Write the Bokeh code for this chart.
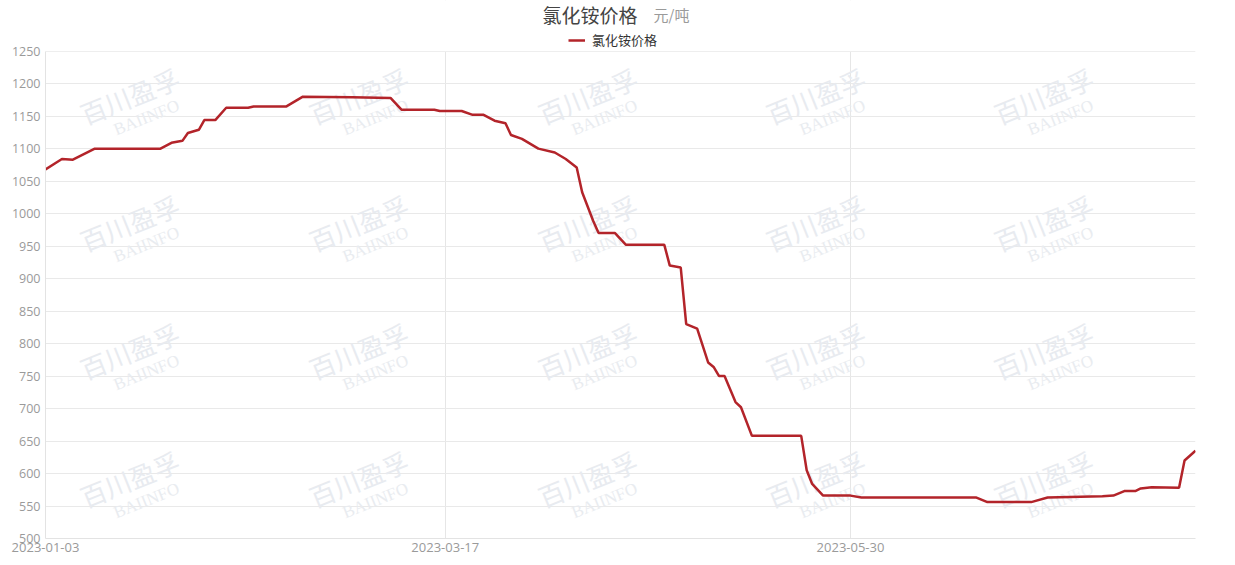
import pandas as pd
from bokeh.plotting import figure
from bokeh.models import (Range1d, FixedTicker, DatetimeTickFormatter,
                          Label, Legend, LegendItem, BoxAnnotation)
from bokeh.embed import file_html
from bokeh.resources import INLINE

# ---- data ----
dates = ["2023-01-03", "2023-01-06", "2023-01-08", "2023-01-12", "2023-01-24", "2023-01-26",
         "2023-01-28", "2023-01-29", "2023-01-31", "2023-02-01", "2023-02-03", "2023-02-05",
         "2023-02-09", "2023-02-10", "2023-02-16", "2023-02-19", "2023-02-28", "2023-03-07",
         "2023-03-09", "2023-03-15", "2023-03-16", "2023-03-20", "2023-03-22", "2023-03-24",
         "2023-03-26", "2023-03-28", "2023-03-29", "2023-03-31", "2023-04-03", "2023-04-06",
         "2023-04-08", "2023-04-10", "2023-04-11", "2023-04-13", "2023-04-14", "2023-04-17",
         "2023-04-19", "2023-04-26", "2023-04-27", "2023-04-29", "2023-04-30", "2023-05-02",
         "2023-05-04", "2023-05-05", "2023-05-06", "2023-05-07", "2023-05-09", "2023-05-10",
         "2023-05-12", "2023-05-21", "2023-05-22", "2023-05-23", "2023-05-25", "2023-05-30",
         "2023-06-01", "2023-06-22", "2023-06-24", "2023-07-02", "2023-07-05", "2023-07-15",
         "2023-07-17", "2023-07-19", "2023-07-21", "2023-07-22", "2023-07-24", "2023-07-29",
         "2023-07-30", "2023-08-01"]
prices = [1068, 1084, 1083, 1100, 1100, 1109,
          1112, 1124, 1129, 1144, 1144, 1163,
          1163, 1165, 1165, 1180, 1179, 1178,
          1160, 1160, 1158, 1158, 1152, 1152,
          1143, 1139, 1121, 1115, 1100, 1094,
          1084, 1071, 1033, 989, 970, 970,
          952, 952, 920, 917, 830, 823,
          771, 764, 750, 750, 710, 702,
          658, 658, 605, 584, 566, 566,
          563, 563, 556, 556, 563, 565,
          566, 573, 573, 577, 579, 578,
          620, 635]
tick_dates = ["2023-01-03", "2023-03-17", "2023-05-30"]
y_ticks = [500, 550, 600, 650, 700, 750, 800, 850, 900, 950, 1000, 1050, 1100, 1150, 1200, 1250]
series_name = "氯化铵价格"
title_main = "氯化铵价格"
title_unit = "元/吨"
wm_cn = "百川盈孚"
wm_en = "BAIINFO"

x = pd.to_datetime(dates)
tick_ms = [int(t.value // 10**6) for t in pd.to_datetime(tick_dates)]
y_lo, y_hi = y_ticks[0], y_ticks[-1]

# frame spans the full height so that title and legend can sit inside it
p = figure(width=1235, height=565, x_axis_type="datetime",
           output_backend="svg", toolbar_location=None,
           x_range=Range1d(x[0].to_pydatetime(), x[-1].to_pydatetime()),
           y_range=Range1d(y_lo, 1328),
           min_border_left=45, min_border_right=40, min_border_top=0, min_border_bottom=27)
p.outline_line_color = None
p.background_fill_color = "white"

# watermarks (under the data)
cols = [84, 313, 542, 770, 998]
rows = [443, 316, 188, 60]
for cx in cols:
    for cy in rows:
        p.add_layout(Label(x=cx, y=cy, x_units="screen", y_units="screen", text=wm_cn,
                           angle=0.38, text_align="center", text_baseline="middle",
                           text_color="#e8ebf0", text_font_size="26px",
                           text_font="Noto Sans CJK SC", level="underlay"))
        p.add_layout(Label(x=cx + 17, y=cy - 22, x_units="screen", y_units="screen", text=wm_en,
                           angle=0.38, text_align="center", text_baseline="middle",
                           text_color="#e9ecf0", text_font_size="17px",
                           text_font="Liberation Serif", level="underlay"))

# blank the area above the top gridline (keeps vertical gridlines from running up)
p.add_layout(BoxAnnotation(bottom=y_hi, fill_color="white", fill_alpha=1.0,
                           line_color=None, level="underlay"))

r = p.line(x, prices, line_color="#b3242a", line_width=2.5)

# axes
tk = FixedTicker(ticks=tick_ms)
p.xaxis.ticker = tk
p.xgrid.ticker = tk
fmt = "%Y-%m-%d"
p.xaxis.formatter = DatetimeTickFormatter(milliseconds=fmt, seconds=fmt, minsec=fmt, minutes=fmt,
                                          hourmin=fmt, hours=fmt, days=fmt, months=fmt, years=fmt)
p.yaxis.ticker = FixedTicker(ticks=y_ticks)
p.yaxis.bounds = (y_lo, y_hi)
for ax in (p.xaxis, p.yaxis):
    ax.axis_line_color = "#e3e3e3"
    ax.major_tick_line_color = None
    ax.minor_tick_line_color = None
    ax.major_tick_out = 0
    ax.major_tick_in = 0
    ax.minor_tick_out = 0
    ax.major_label_text_color = "#9a9a9a"
    ax.major_label_text_font = "Open Sans"
p.yaxis.major_label_text_font_size = "12.5px"
p.xaxis.major_label_text_font_size = "13px"
p.yaxis.major_label_standoff = 5
p.xaxis.major_label_standoff = 4
p.xgrid.grid_line_color = "#e6e6e6"
p.ygrid.grid_line_color = "#e9e9e9"
p.ygrid.ticker = FixedTicker(ticks=y_ticks)

# title
p.add_layout(Label(x=497, y=524, x_units="screen", y_units="screen", text=title_main,
                   text_align="left", text_baseline="middle", text_color="#444444",
                   text_font_size="19px", text_font="Noto Sans CJK SC"))
p.add_layout(Label(x=608, y=524, x_units="screen", y_units="screen", text=title_unit,
                   text_align="left", text_baseline="middle", text_color="#9a9a9a",
                   text_font_size="15px", text_font="Noto Sans CJK SC"))

# legend (location = bottom-left corner, frame screen units)
legend = Legend(items=[LegendItem(label=series_name, renderers=[r])],
                location=(523, 489), orientation="horizontal",
                padding=0, margin=0, spacing=0, border_line_color=None,
                background_fill_alpha=0, glyph_width=17, glyph_height=14,
                label_height=14, label_standoff=7,
                label_text_font="Noto Sans CJK SC", label_text_font_size="13px",
                label_text_color="#333333")
p.add_layout(legend)

open("out.html", "w").write(file_html(p, INLINE))
